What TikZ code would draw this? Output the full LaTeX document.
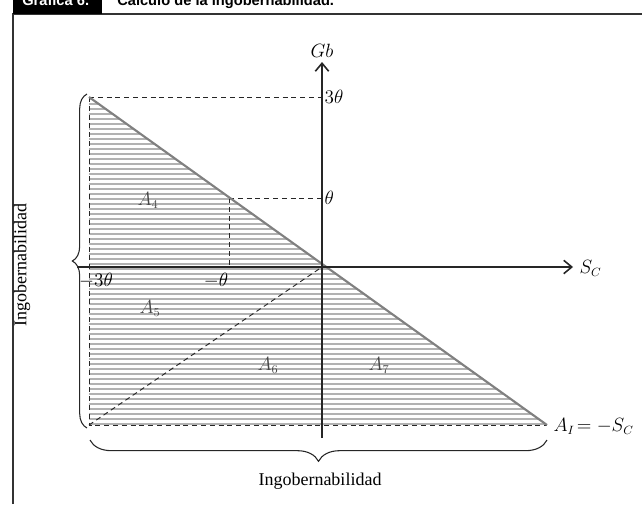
\documentclass[tikz,border=0pt]{standalone}
\usepackage{fontspec}
\setmainfont{Liberation Serif}
\newfontfamily\headfont{Liberation Sans}
\usetikzlibrary{arrows.meta, decorations.pathreplacing, calc}

\begin{document}
\begin{tikzpicture}[
    x=0.75pt, y=-0.75pt,
    axis/.style={line width=1.6pt, black!85, -{Straight Barb[length=6pt, width=10pt, line width=1.2pt]}},
    guide/.style={dash pattern=on 3.8pt off 2.8pt, line width=0.7pt, black!85},
    border/.style={line width=1.5pt, black!80},
    hatch/.style={line width=1.3pt, black!30},
    edge/.style={line width=1.6pt, black!50},
    curly/.style={decorate, decoration={brace, amplitude=#1}, line width=0.8pt, black!85},
    lbl/.style={font=\fontsize{13.5}{16}\selectfont, inner sep=1pt},
    area/.style={lbl, text=black!72},
    head/.style={font=\headfont\bfseries\fontsize{11}{13}\selectfont, inner sep=0pt, anchor=base west},
]
\useasboundingbox (0,0) rectangle (642,504);

% Frame and heading
\draw[border] (13,504) -- (13,14) -- (642,14);
\fill[black] (13,0) rectangle (102,14);
\node[head, text=white] (num) at (22,5) {Gráfica 6.};
\node[head] (title) at (117,5) {Cálculo de la ingobernabilidad.};

% Key points
\coordinate (O) at (322,267);
\coordinate (top) at (89,97);
\coordinate (corner) at (89,425);
\coordinate (tip) at (547,425);
\coordinate (mid) at (229,198);
\coordinate (xlo) at (229,267);
\coordinate (xleft) at (77,267);
\coordinate (xright) at (573,267);
\coordinate (ytop) at (322,62);
\coordinate (ybot) at (322,438);

% Hatched triangle
\begin{scope}
    \clip (top) -- (tip) -- (corner) -- cycle;
    \foreach \y in {99,104,...,424}
        \draw[hatch] (80,\y) -- (560,\y);
\end{scope}

% Labels
\node[lbl, anchor=south] (gb) at (322,59) {$Gb$};
\node[lbl, anchor=west] (sc) at (578,268) {$S_C$};
\node[lbl, anchor=west] (t3) at (323,97) {$3\theta$};
\node[lbl, anchor=west] (t1) at (323,198) {$\theta$};
\node[lbl] (mt3) at (96,281) {$-3\theta$};
\node[lbl] (mt1) at (216,281) {$-\theta$};
\node[area] (a4) at (148,200) {$A_4$};
\node[area] (a5) at (150,308) {$A_5$};
\node[area] (a6) at (268,365) {$A_6$};
\node[area] (a7) at (379,365) {$A_7$};
\node[lbl, anchor=west] (ai) at (552,426) {$A_I\!= -S_C$};

% Dashed guides
\draw[guide] (top) -- (t3.west);
\draw[guide] (mid) -- (t1.west);
\draw[guide] (mid) -- (xlo);
\draw[guide] (top) -- (corner) -- (tip);
\draw[guide] (corner) -- (O);

% Boundary line
\draw[edge] (top) -- (tip);

% Axes
\draw[axis] (xleft) -- (xright);
\draw[axis] (ybot) -- (ytop);

% Braces
\draw[curly=11pt] ($(corner)+(-2,3)$) -- ($(top)+(-2,-3)$);
\node[lbl, rotate=90] (vlbl) at (22,265) {Ingobernabilidad};
\draw[curly=16pt] ($(tip)+(0,15)$) -- ($(corner)+(1,15)$);
\node[lbl] (hlbl) at (320,481) {Ingobernabilidad};

\end{tikzpicture}
\end{document}
